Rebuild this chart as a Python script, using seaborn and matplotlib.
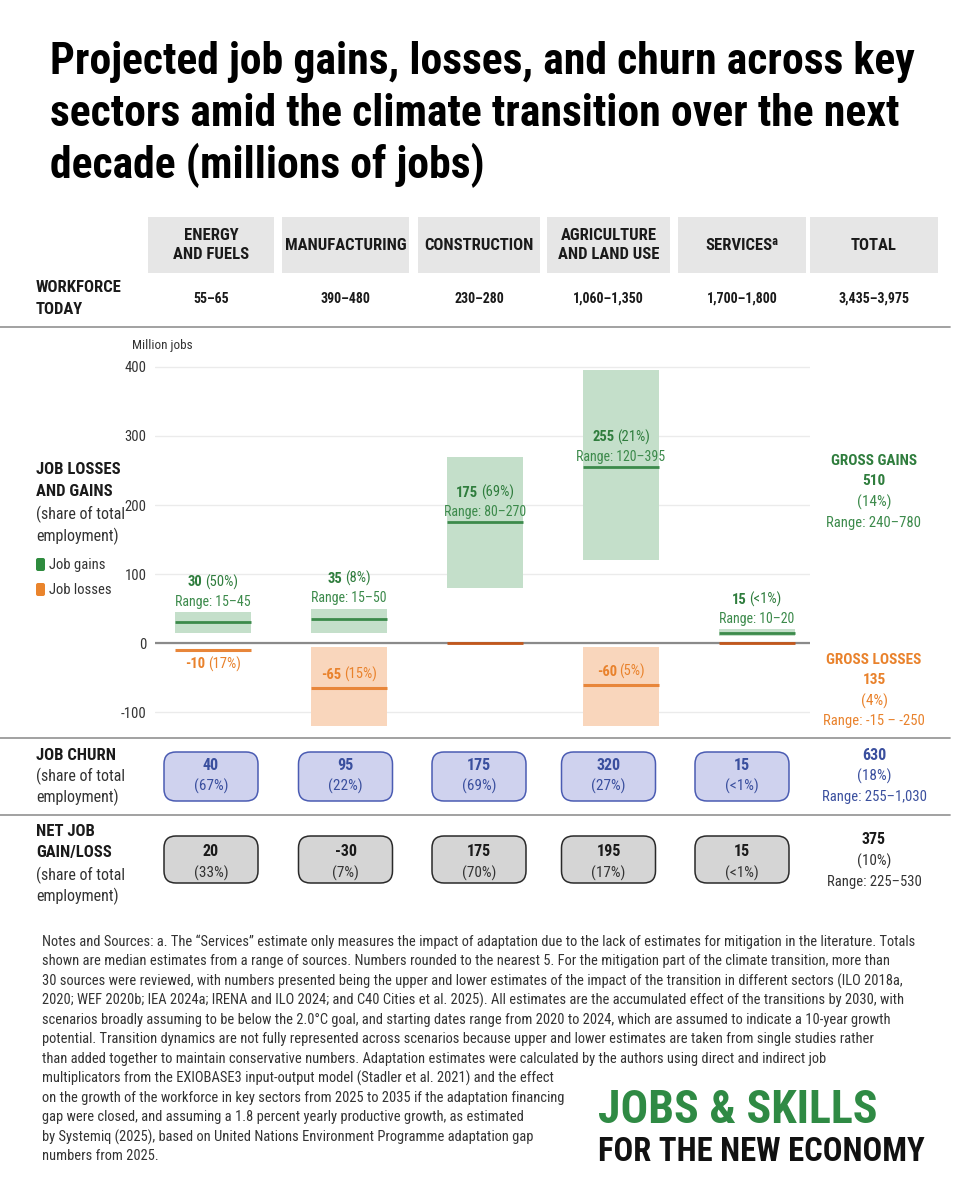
import numpy as np
import pandas as pd
import matplotlib
matplotlib.use("Agg")
import matplotlib.pyplot as plt
import seaborn as sns
from matplotlib import font_manager as fm
from matplotlib.patches import FancyBboxPatch, Rectangle
from matplotlib.offsetbox import TextArea, HPacker, AnnotationBbox

# ---------------- data ----------------
sectors = ["ENERGY\nAND FUELS", "MANUFACTURING", "CONSTRUCTION", "AGRICULTURE\nAND LAND USE", "SERVICESᵃ"]
total_header = "TOTAL"
workforce = ["55–65", "390–480", "230–280", "1,060–1,350", "1,700–1,800"]
workforce_total = "3,435–3,975"

gain_median = [30, 35, 175, 255, 15]
gain_low = [15, 15, 80, 120, 10]
gain_high = [45, 50, 270, 395, 20]
gain_share = ["50%", "8%", "69%", "21%", "<1%"]

loss_median = [-10, -65, 0, -60, 0]
loss_top = [-10, -5, 0, -5, 0]
loss_bottom = [-10, -125, 0, -125, 0]
loss_share = ["17%", "15%", None, "5%", None]

churn = [40, 95, 175, 320, 15]
churn_share = ["67%", "22%", "69%", "27%", "<1%"]
net = [20, -30, 175, 195, 15]
net_share = ["33%", "7%", "70%", "17%", "<1%"]

gross_gains, gross_gains_share, gross_gains_range = 510, "14%", "240–780"
gross_losses, gross_losses_share, gross_losses_range = 135, "4%", "-15 – -250"
churn_total, churn_total_share, churn_total_range = 630, "18%", "255–1,030"
net_total, net_total_share, net_total_range = 375, "10%", "225–530"

yticks = [-100, 0, 100, 200, 300, 400]

# ---------------- style ----------------
sns.set_theme(style="white")
names = {f.name for f in fm.fontManager.ttflist}
FONT, STRETCH = None, "normal"
for pref in ["Roboto Condensed", "Liberation Sans Narrow", "Open Sans Condensed",
             "Noto Sans Condensed", "DejaVu Sans Condensed"]:
    if pref in names:
        FONT = pref
        break
if FONT is None:
    cands = sorted(n for n in names if ("Condensed" in n or "Narrow" in n))
    if cands:
        FONT = cands[0]
    else:
        FONT, STRETCH = "DejaVu Sans", "condensed"
plt.rcParams["font.family"] = [FONT, "DejaVu Sans"]
plt.rcParams["font.stretch"] = STRETCH

GREEN_T = "#2f7d3d"
GREEN_L = "#3c8a4b"
GREEN_BOX = "#c4dfca"
ORANGE_T = "#e9822c"
ORANGE_BOX = "#f9d6bc"
ORANGE_L = "#e8863a"
ORANGE_D = "#c2571c"
BLUE_T = "#3a4f9e"
BLUE_BOX = "#cfd2ee"
BLUE_E = "#4b5cb3"
GREY_BOX = "#d5d5d5"
DARK = "#1a1a1a"
TXT = "#333333"

fig = plt.figure(figsize=(9.6, 12), dpi=100)

# overlay axes in pixel coordinates (layout only)
ov = fig.add_axes([0, 0, 1, 1])
ov.set_xlim(0, 960)
ov.set_ylim(1200, 0)
ov.axis("off")


def T(x, y, s, size=11, weight="normal", color=TXT, ha="center", va="center", **kw):
    ov.text(x, y, s, fontsize=size, fontweight=weight, color=color, ha=ha, va=va, **kw)


# title
title_lines = ["Projected job gains, losses, and churn across key",
               "sectors amid the climate transition over the next",
               "decade (millions of jobs)"]
for i, ln in enumerate(title_lines):
    T(50, 62 + 51.5 * i, ln, size=31.5, weight="black", color="#000000", ha="left")

# header boxes
hdr_x = [(148, 274), (282, 409), (418, 540), (547, 670), (678, 806), (810, 938)]
hdr_c = [(a + b) / 2 for a, b in hdr_x]
for (a, b), lab in zip(hdr_x, sectors + [total_header]):
    ov.add_patch(Rectangle((a, 217), b - a, 56, facecolor="#e6e6e6", edgecolor="none"))
    T((a + b) / 2, 245, lab, size=12, weight="bold", color=DARK, linespacing=1.35)

T(36, 288, "WORKFORCE", size=12, weight="bold", color=DARK, ha="left")
T(36, 310, "TODAY", size=12, weight="bold", color=DARK, ha="left")
for c, w in zip(hdr_c, workforce + [workforce_total]):
    T(c, 299, w, size=10, weight="bold", color=DARK)

for yy in (327, 738, 815):
    ov.plot([0, 950], [yy, yy], color="#9a9a9a", lw=1.3)

# left labels of chart block
T(36, 469, "JOB LOSSES", size=12, weight="bold", color=DARK, ha="left")
T(36, 492, "AND GAINS", size=12, weight="bold", color=DARK, ha="left")
T(36, 514, "(share of total", size=11.5, color=TXT, ha="left")
T(36, 536, "employment)", size=11.5, color=TXT, ha="left")
ov.add_patch(FancyBboxPatch((36, 558), 9, 13, boxstyle="round,pad=0,rounding_size=2",
                            facecolor="#2e8b3e", edgecolor="none"))
ov.add_patch(FancyBboxPatch((36, 583), 9, 13, boxstyle="round,pad=0,rounding_size=2",
                            facecolor="#ea842c", edgecolor="none"))
T(49, 565, "Job gains", size=10.5, color=TXT, ha="left")
T(49, 590, "Job losses", size=10.5, color=TXT, ha="left")
T(132, 345, "Million jobs", size=9.5, color=TXT, ha="left")

# ---------------- main chart ----------------
ax = fig.add_axes([155 / 960, 1 - 726 / 1200, 655 / 960, 366 / 1200])
ax.patch.set_alpha(0)
df = pd.DataFrame({
    "sector": sectors,
    "gain_span": np.array(gain_high) - np.array(gain_low),
    "loss_span": np.array(loss_bottom) - np.array(loss_top),
})
BW = 0.56
sns.barplot(data=df, x="sector", y="gain_span", color=GREEN_BOX, saturation=1,
            width=BW, linewidth=0, errorbar=None, ax=ax, zorder=2)
n_gain = len(ax.patches)
for p, lo in zip(ax.patches[:n_gain], gain_low):
    p.set_y(lo)
sns.barplot(data=df, x="sector", y="loss_span", color=ORANGE_BOX, saturation=1,
            width=BW, linewidth=0, errorbar=None, ax=ax, zorder=2)
for p, top in zip(ax.patches[n_gain:], loss_top):
    p.set_y(top)

xs = np.arange(len(sectors))
ax.hlines(gain_median, xs - BW / 2, xs + BW / 2, color=GREEN_L, lw=2, zorder=4)
for x, m, top, bot in zip(xs, loss_median, loss_top, loss_bottom):
    col = ORANGE_D if m == 0 else ORANGE_L
    ax.hlines(m, x - BW / 2, x + BW / 2, color=col, lw=2.2 if m != 0 else 2, zorder=4)

ax.axhline(0, color="#8a8a8a", lw=1.6, zorder=3)
ax.set_xlim(-0.426, 4.39)
ax.set_ylim(-120, 410)
ax.set_yticks(yticks)
ax.set_yticklabels([str(t) for t in yticks], fontsize=10.5, color=TXT)
ax.tick_params(axis="y", length=0, pad=6)
ax.set_xticks([])
ax.set_xlabel("")
ax.set_ylabel("")
ax.grid(axis="y", color="#ebebeb", lw=1)
ax.set_axisbelow(True)
for s in ax.spines.values():
    s.set_visible(False)


def two_part(x, y, bold, rest, color, dy_pt, size=10.5):
    a = TextArea(bold, textprops=dict(fontsize=size, fontweight="bold", color=color))
    b = TextArea(rest, textprops=dict(fontsize=size, color=color))
    pk = HPacker(children=[a, b], align="baseline", pad=0, sep=2)
    ab = AnnotationBbox(pk, (x, y), xybox=(0, dy_pt), xycoords="data",
                        boxcoords="offset points", frameon=False, pad=0,
                        box_alignment=(0.5, 0.5), zorder=6)
    ax.add_artist(ab)


for x, m, lo, hi, sh in zip(xs, gain_median, gain_low, gain_high, gain_share):
    anchor = m if (hi - lo) > 100 else hi
    ax.annotate(f"Range: {lo}–{hi}", (x, anchor), xytext=(0, 7.5), textcoords="offset points",
                ha="center", va="center", fontsize=10, color=GREEN_L, zorder=6)
    two_part(x, anchor, str(m), f"({sh})", GREEN_T, 21.5)

for x, m, top, bot, sh in zip(xs, loss_median, loss_top, loss_bottom, loss_share):
    if sh is None:
        continue
    if top == bot:
        two_part(x, m, str(m), f"({sh})", ORANGE_T, -10)
    else:
        two_part(x, m, str(m), f"({sh})", ORANGE_T, 9.5)

# totals to the right
TC = hdr_c[-1]
T(TC, 461, "GROSS GAINS", size=11, weight="bold", color=GREEN_T)
T(TC, 481, str(gross_gains), size=11, weight="bold", color=GREEN_T)
T(TC, 502, f"({gross_gains_share})", size=11, color=GREEN_L)
T(TC, 523, f"Range: {gross_gains_range}", size=10.5, color=GREEN_L)
T(TC, 660, "GROSS LOSSES", size=11, weight="bold", color=ORANGE_T)
T(TC, 680, str(gross_losses), size=11, weight="bold", color=ORANGE_T)
T(TC, 701, f"({gross_losses_share})", size=11, color=ORANGE_T)
T(TC, 721, f"Range: {gross_losses_range}", size=10.5, color=ORANGE_T)

# ---------------- churn row ----------------
T(36, 755, "JOB CHURN", size=12, weight="bold", color=DARK, ha="left")
T(36, 776, "(share of total", size=11.5, color=TXT, ha="left")
T(36, 797, "employment)", size=11.5, color=TXT, ha="left")
BOXW, BOXH = 94, 49
for c, v, sh in zip(hdr_c[:5], churn, churn_share):
    ov.add_patch(FancyBboxPatch((c - BOXW / 2, 752), BOXW, BOXH,
                                boxstyle="round,pad=0,rounding_size=12",
                                facecolor=BLUE_BOX, edgecolor=BLUE_E, lw=1.1))
    T(c, 765, str(v), size=11.5, weight="bold", color=BLUE_T)
    T(c, 786, f"({sh})", size=11, color=BLUE_T)
T(TC, 755, str(churn_total), size=11.5, weight="bold", color=BLUE_T)
T(TC, 776, f"({churn_total_share})", size=11, color=BLUE_T)
T(TC, 797, f"Range: {churn_total_range}", size=10.5, color=BLUE_T)

# ---------------- net row ----------------
T(36, 832, "NET JOB", size=12, weight="bold", color=DARK, ha="left")
T(36, 853, "GAIN/LOSS", size=12, weight="bold", color=DARK, ha="left")
T(36, 875, "(share of total", size=11.5, color=TXT, ha="left")
T(36, 896, "employment)", size=11.5, color=TXT, ha="left")
for c, v, sh in zip(hdr_c[:5], net, net_share):
    ov.add_patch(FancyBboxPatch((c - BOXW / 2, 836), BOXW, 47,
                                boxstyle="round,pad=0,rounding_size=12",
                                facecolor=GREY_BOX, edgecolor="#2a2a2a", lw=1.1))
    T(c, 852, str(v), size=11.5, weight="bold", color=DARK)
    T(c, 873, f"({sh})", size=11, color=TXT)
T(TC, 840, str(net_total), size=11.5, weight="bold", color=DARK)
T(TC, 861, f"({net_total_share})", size=11, color=TXT)
T(TC, 882, f"Range: {net_total_range}", size=10.5, color=TXT)

# ---------------- notes ----------------
notes = [
    "Notes and Sources: a. The \u201cServices\u201d estimate only measures the impact of adaptation due to the lack of estimates for mitigation in the literature. Totals",
    "shown are median estimates from a range of sources. Numbers rounded to the nearest 5. For the mitigation part of the climate transition, more than",
    "30 sources were reviewed, with numbers presented being the upper and lower estimates of the impact of the transition in different sectors (ILO 2018a,",
    "2020; WEF 2020b; IEA 2024a; IRENA and ILO 2024; and C40 Cities et al. 2025). All estimates are the accumulated effect of the transitions by 2030, with",
    "scenarios broadly assuming to be below the 2.0\u00b0C goal, and starting dates range from 2020 to 2024, which are assumed to indicate a 10-year growth",
    "potential. Transition dynamics are not fully represented across scenarios because upper and lower estimates are taken from single studies rather",
    "than added together to maintain conservative numbers. Adaptation estimates were calculated by the authors using direct and indirect job",
    "multiplicators from the EXIOBASE3 input-output model (Stadler et al. 2021) and the effect",
    "on the growth of the workforce in key sectors from 2025 to 2035 if the adaptation financing",
    "gap were closed, and assuming a 1.8 percent yearly productive growth, as estimated",
    "by Systemiq (2025), based on United Nations Environment Programme adaptation gap",
    "numbers from 2025.",
]
for i, ln in enumerate(notes):
    T(42, 942 + 19.5 * i, ln, size=10.45, color=TXT, ha="left")

T(598, 1110, "JOBS & SKILLS", size=33, weight="bold", color="#2f8a44", ha="left")
T(598, 1152, "FOR THE NEW ECONOMY", size=23.5, weight="bold", color="#111111", ha="left")

fig.savefig("out.png", dpi=100, facecolor="white")
